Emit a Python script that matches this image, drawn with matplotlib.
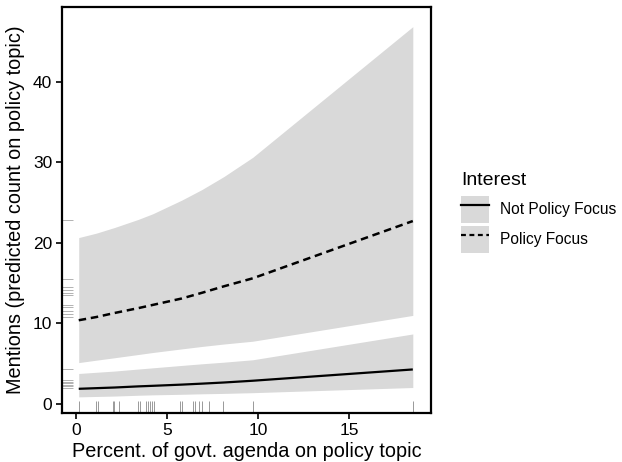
import matplotlib
matplotlib.use("Agg")
import matplotlib.pyplot as plt
from matplotlib.patches import Patch
from matplotlib.lines import Line2D
from matplotlib.legend_handler import HandlerTuple

plt.rcParams['font.family'] = ['Liberation Sans', 'DejaVu Sans']

# x positions where predictions were evaluated
x_pred = [0.13, 1.1, 2.1, 3.4, 4.2, 5.8, 6.9, 8.1, 9.7, 18.5]

# Policy Focus (dashed)
pf_fit = [10.4, 10.8, 11.3, 11.9, 12.3, 13.1, 13.8, 14.6, 15.6, 22.7]
pf_lo = [5.15, 5.45, 5.75, 6.15, 6.4, 6.85, 7.15, 7.45, 7.8, 11.0]
pf_hi = [20.65, 21.2, 21.9, 22.9, 23.6, 25.3, 26.6, 28.2, 30.6, 46.8]

# Not Policy Focus (solid)
npf_fit = [1.9, 1.98, 2.06, 2.2, 2.27, 2.42, 2.54, 2.68, 2.9, 4.3]
npf_lo = [0.9, 0.95, 1.0, 1.1, 1.15, 1.22, 1.28, 1.33, 1.42, 2.06]
npf_hi = [3.8, 3.95, 4.1, 4.35, 4.5, 4.8, 5.0, 5.2, 5.5, 8.7]

# rug values
rug_x = [0.13, 1.1, 1.19, 2.0, 2.09, 2.33, 3.39, 3.48, 3.81, 3.94, 4.05, 4.16,
         4.25, 5.71, 5.82, 6.39, 6.54, 6.77, 6.9, 7.27, 8.09, 9.7, 18.5]
rug_y = [22.8, 15.5, 14.5, 14.1, 13.8, 13.5, 12.3, 12.0, 11.6, 11.2, 10.8,
         4.4, 2.0, 2.2, 2.4, 2.6, 2.8, 3.0]

x_ticks = [0, 5, 10, 15]
y_ticks = [0, 10, 20, 30, 40]
legend_labels = ["Not Policy Focus", "Policy Focus"]

fill_col = "#d9d9d9"

fig = plt.figure(figsize=(6.22, 4.62), dpi=100)
ax = fig.add_axes([62/622, 1 - 413/462, (431-62)/622, (413-6.5)/462])

ax.fill_between(x_pred, npf_lo, npf_hi, color=fill_col, lw=0)
ax.fill_between(x_pred, pf_lo, pf_hi, color=fill_col, lw=0)
ax.plot(x_pred, npf_fit, color="black", lw=1.6, solid_capstyle="butt")
ax.plot(x_pred, pf_fit, color="black", lw=1.8, ls=(0, (3.0, 1.9)))

ax.vlines(rug_x, 0, 0.03, transform=ax.get_xaxis_transform(),
          color="black", alpha=0.4, lw=0.7)
ax.hlines(rug_y, 0, 0.03, transform=ax.get_yaxis_transform(),
          color="black", alpha=0.3, lw=0.7)

ax.set_xlim(-0.79, 19.5)
ax.set_ylim(-1.1, 49.3)
ax.set_xticks(x_ticks)
ax.set_yticks(y_ticks)
for s in ax.spines.values():
    s.set_linewidth(1.6)
    s.set_color("black")
ax.tick_params(axis="both", length=4, width=1.2, labelsize=12.5, colors="black", pad=3)

ax.set_xlabel("Percent. of govt. agenda on policy topic", fontsize=14.3, labelpad=3)
ax.set_ylabel("Mentions (predicted count on policy topic)", fontsize=14.3, labelpad=6)

h1 = (Patch(facecolor=fill_col, edgecolor="none"),
      Line2D([], [], color="black", lw=1.6))
h2 = (Patch(facecolor=fill_col, edgecolor="none"),
      Line2D([], [], color="black", lw=1.6, ls=(0, (2.2, 1.6))))
leg = fig.legend([h1, h2], legend_labels, title="Interest",
                 handler_map={tuple: HandlerTuple(ndivide=1, pad=0)},
                 loc="upper left", bbox_to_anchor=(461/622, 1 - 172/462),
                 frameon=False, fontsize=11.2, title_fontsize=14,
                 handlelength=1.8, handleheight=2.3, labelspacing=0.18,
                 handletextpad=0.7, borderpad=0, borderaxespad=0,
                 alignment="left")
leg._legend_box.sep = 5

fig.savefig("out.png", dpi=100)
